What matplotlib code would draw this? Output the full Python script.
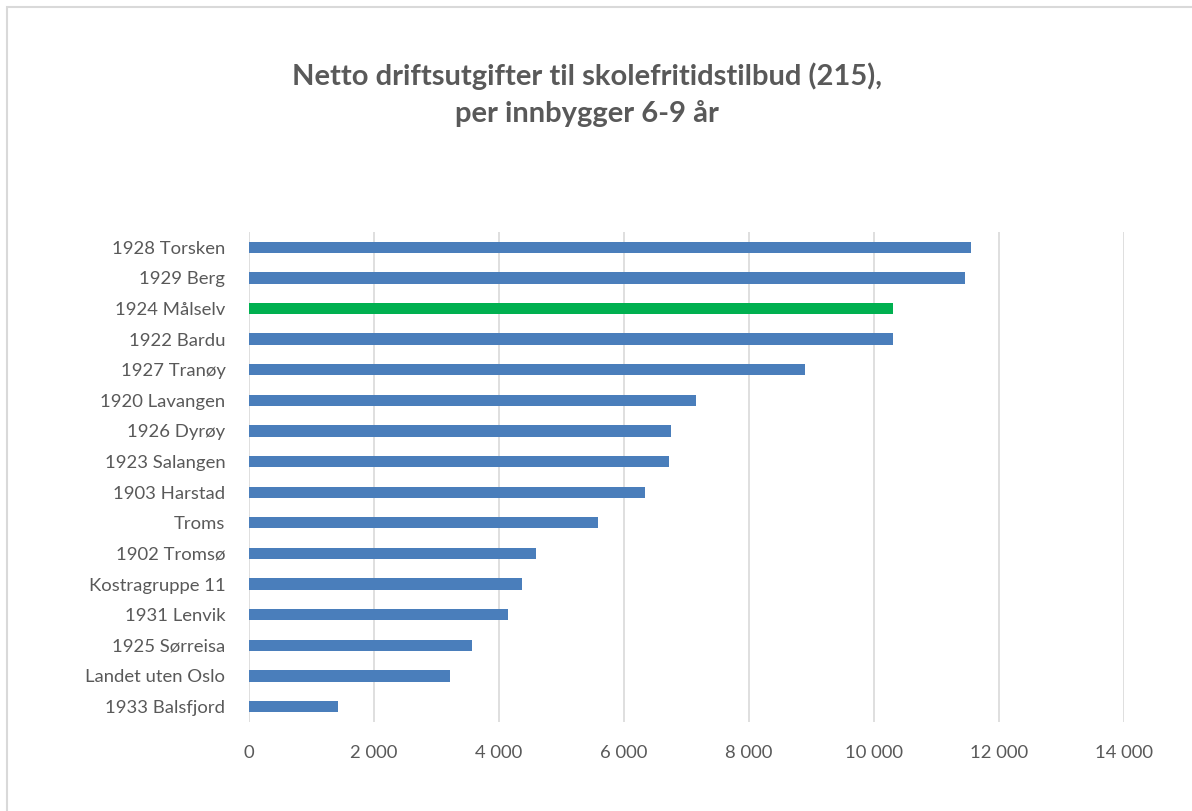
import matplotlib.pyplot as plt
from matplotlib.patches import Rectangle

# data, top to bottom as shown
labels = ['1928 Torsken', '1929 Berg', '1924 Målselv', '1922 Bardu', '1927 Tranøy',
          '1920 Lavangen', '1926 Dyrøy', '1923 Salangen', '1903 Harstad', 'Troms',
          '1902 Tromsø', 'Kostragruppe 11', '1931 Lenvik', '1925 Sørreisa',
          'Landet uten Oslo', '1933 Balsfjord']
values = [11555, 11453, 10307, 10307, 8892, 7156, 6744, 6717, 6328, 5587,
          4595, 4371, 4147, 3565, 3219, 1427]
highlight = '1924 Målselv'
xticks = [0, 2000, 4000, 6000, 8000, 10000, 12000, 14000]

blue = '#4a7ebb'
green = '#00b050'
grey = '#595959'

plt.rcParams['font.family'] = ['Lato', 'DejaVu Sans']

fig = plt.figure(figsize=(11.92, 8.11), dpi=100)
ax = fig.add_axes([0.2089, 0.110, 0.943 - 0.2089, 0.714 - 0.110])

pos = list(range(len(labels)))[::-1]
colors = [green if l == highlight else blue for l in labels]
ax.barh(pos, values, height=0.37, color=colors, zorder=3)

ax.set_xlim(0, 14000)
ax.set_ylim(-0.5, len(labels) - 0.5)
ax.set_xticks(xticks)
ax.set_xticklabels([f'{v:,}'.replace(',', ' ') for v in xticks])
ax.set_yticks(pos)
ax.set_yticklabels(labels)
ax.tick_params(axis='x', length=0, pad=17, labelsize=13.3, labelcolor=grey)
ax.tick_params(axis='y', length=0, pad=17, labelsize=13.3, labelcolor=grey)
ax.grid(axis='x', color='#d9d9d9', linewidth=1.2, zorder=0)
for s in ax.spines.values():
    s.set_visible(False)

fig.text(0.4925, 0.883, 'Netto driftsutgifter til skolefritidstilbud (215),\nper innbygger 6-9 år',
         ha='center', va='center', fontsize=21, fontweight='bold', color=grey,
         linespacing=1.45)

# chart frame
fig.patches.append(Rectangle((7 / 1192, -0.01), 1.0, 1 - 7 / 811 + 0.01,
                             transform=fig.transFigure, fill=False,
                             edgecolor='#d9d9d9', linewidth=1.5))

fig.savefig('out.png', dpi=100)
